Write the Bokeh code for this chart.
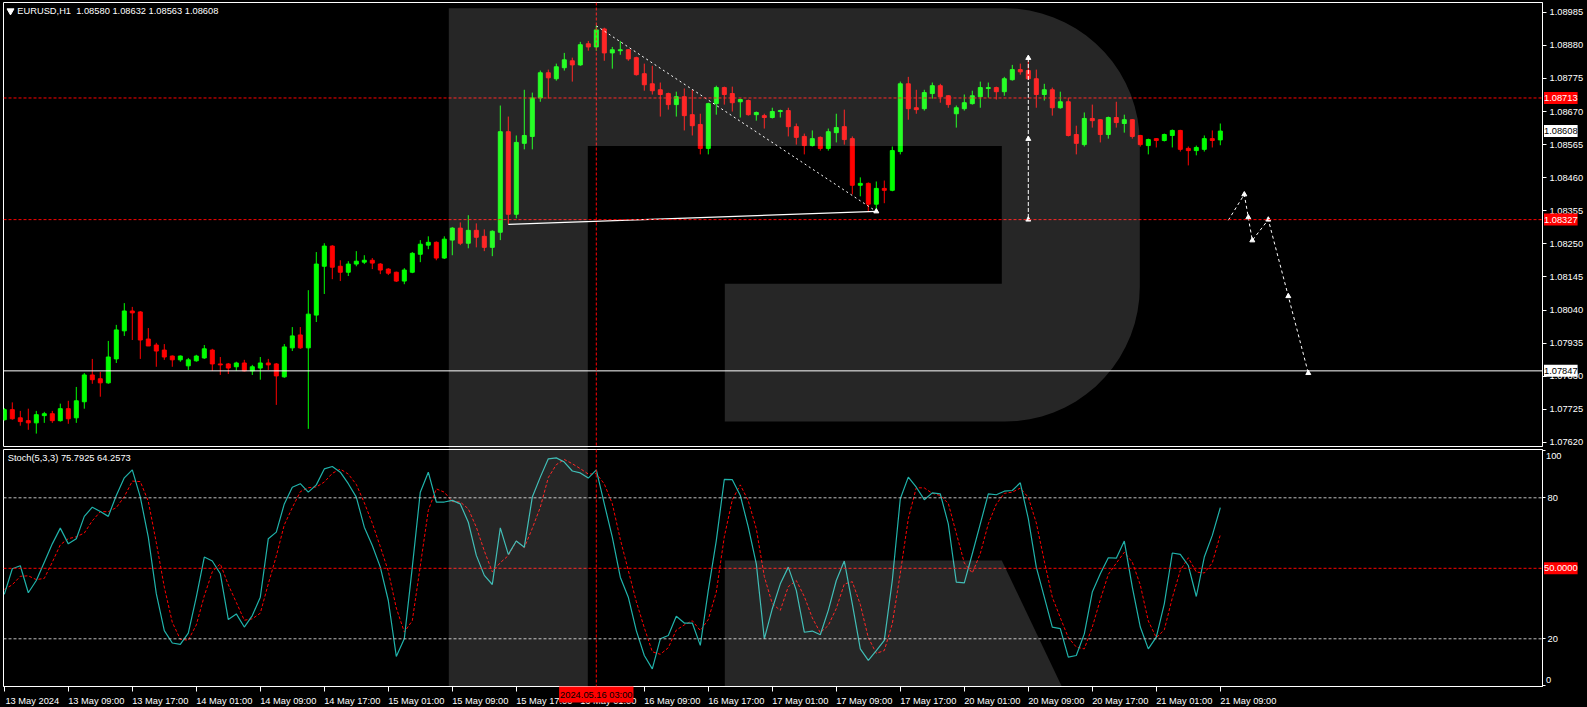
import numpy as np
from bokeh.plotting import figure
from bokeh.layouts import column
from bokeh.models import (Range1d, FixedTicker, PrintfTickFormatter, Span, Label, ColumnDataSource,
                          BoxAnnotation, PolyAnnotation)
from bokeh.embed import file_html
from bokeh.resources import INLINE

# ---------------- data (EURUSD H1, 13 May 01:00 .. 21 May 09:00) ----------------
open_ = [1.07692,1.07724,1.07698,1.07689,1.07682,1.07705,1.07711,1.07689,1.07727,1.07698,
         1.07749,1.07834,1.07822,1.07809,1.07885,1.07974,1.08037,1.08034,1.07948,1.07929,
         1.07913,1.07894,1.07882,1.07863,1.07879,1.07888,1.07913,1.07869,1.07869,1.07860,
         1.07872,1.07847,1.07856,1.07872,1.07869,1.07828,1.07920,1.07961,1.07920,1.08024,
         1.08179,1.08243,1.08179,1.08160,1.08186,1.08192,1.08198,1.08186,1.08170,1.08160,
         1.08132,1.08160,1.08217,1.08246,1.08255,1.08205,1.08262,1.08300,1.08252,1.08293,
         1.08274,1.08239,1.08287,1.08606,1.08344,1.08569,1.08591,1.08713,1.08793,1.08774,
         1.08809,1.08831,1.08818,1.08885,1.08875,1.08932,1.08856,1.08863,1.08866,1.08841,
         1.08790,1.08758,1.08739,1.08727,1.08692,1.08717,1.08660,1.08629,1.08553,1.08695,
         1.08746,1.08727,1.08701,1.08705,1.08660,1.08657,1.08651,1.08670,1.08673,1.08622,
         1.08591,1.08562,1.08588,1.08553,1.08603,1.08622,1.08584,1.08436,1.08442,1.08376,
         1.08426,1.08420,1.08543,1.08758,1.08682,1.08679,1.08727,1.08752,1.08720,1.08663,
         1.08679,1.08695,1.08717,1.08743,1.08746,1.08733,1.08771,1.08803,1.08800,1.08774,
         1.08724,1.08739,1.08682,1.08701,1.08597,1.08565,1.08648,1.08644,1.08597,1.08651,
         1.08632,1.08644,1.08594,1.08562,1.08584,1.08578,1.08594,1.08610,1.08553,1.08546,
         1.08550,1.08584,1.08580]
high = [1.07729,1.07747,1.07720,1.07727,1.07720,1.07717,1.07720,1.07743,1.07752,1.07796,
        1.07840,1.07885,1.07844,1.07942,1.07993,1.08062,1.08050,1.08037,1.07983,1.07936,
        1.07932,1.07896,1.07896,1.07888,1.07898,1.07929,1.07917,1.07891,1.07872,1.07876,
        1.07882,1.07866,1.07891,1.07885,1.07872,1.07932,1.07986,1.07986,1.08103,1.08224,
        1.08252,1.08246,1.08198,1.08195,1.08227,1.08214,1.08205,1.08189,1.08173,1.08162,
        1.08173,1.08224,1.08262,1.08274,1.08258,1.08274,1.08303,1.08318,1.08341,1.08315,
        1.08296,1.08293,1.08689,1.08654,1.08594,1.08739,1.08730,1.08800,1.08803,1.08822,
        1.08856,1.08841,1.08891,1.08894,1.08942,1.08936,1.08875,1.08894,1.08868,1.08844,
        1.08822,1.08815,1.08762,1.08730,1.08733,1.08743,1.08739,1.08663,1.08698,1.08752,
        1.08749,1.08749,1.08711,1.08708,1.08670,1.08663,1.08682,1.08676,1.08682,1.08632,
        1.08600,1.08610,1.08591,1.08616,1.08663,1.08676,1.08591,1.08461,1.08445,1.08448,
        1.08451,1.08559,1.08765,1.08780,1.08739,1.08739,1.08762,1.08758,1.08722,1.08689,
        1.08724,1.08736,1.08765,1.08762,1.08749,1.08780,1.08818,1.08822,1.08831,1.08803,
        1.08758,1.08746,1.08733,1.08714,1.08625,1.08667,1.08692,1.08646,1.08654,1.08701,
        1.08660,1.08646,1.08596,1.08584,1.08586,1.08600,1.08613,1.08612,1.08559,1.08562,
        1.08594,1.08610,1.08632]
low = [1.07689,1.07692,1.07673,1.07660,1.07648,1.07682,1.07682,1.07686,1.07679,1.07682,
       1.07727,1.07806,1.07765,1.07806,1.07872,1.07958,1.07945,1.07885,1.07926,1.07860,
       1.07882,1.07860,1.07876,1.07850,1.07876,1.07885,1.07847,1.07834,1.07837,1.07847,
       1.07845,1.07834,1.07819,1.07850,1.07739,1.07825,1.07910,1.07917,1.07663,1.08002,
       1.08091,1.08138,1.08132,1.08148,1.08179,1.08186,1.08170,1.08154,1.08151,1.08129,
       1.08122,1.08157,1.08192,1.08233,1.08198,1.08202,1.08214,1.08246,1.08236,1.08239,
       1.08227,1.08211,1.08262,1.08312,1.08331,1.08550,1.08550,1.08701,1.08711,1.08768,
       1.08800,1.08765,1.08815,1.08863,1.08863,1.08831,1.08806,1.08850,1.08831,1.08784,
       1.08736,1.08724,1.08654,1.08676,1.08654,1.08610,1.08594,1.08534,1.08534,1.08660,
       1.08692,1.08670,1.08651,1.08657,1.08641,1.08616,1.08648,1.08651,1.08591,1.08565,
       1.08534,1.08559,1.08546,1.08546,1.08572,1.08565,1.08407,1.08401,1.08353,1.08350,
       1.08379,1.08417,1.08534,1.08644,1.08663,1.08673,1.08711,1.08698,1.08682,1.08619,
       1.08673,1.08692,1.08682,1.08714,1.08708,1.08720,1.08768,1.08787,1.08771,1.08682,
       1.08705,1.08657,1.08679,1.08591,1.08534,1.08559,1.08619,1.08572,1.08584,1.08619,
       1.08603,1.08584,1.08559,1.08534,1.08556,1.08575,1.08556,1.08543,1.08499,1.08531,
       1.08543,1.08556,1.08563]
close = [1.07724,1.07695,1.07686,1.07682,1.07708,1.07711,1.07689,1.07727,1.07695,1.07752,
         1.07834,1.07819,1.07809,1.07891,1.07977,1.08037,1.08031,1.07945,1.07926,1.07910,
         1.07891,1.07882,1.07894,1.07882,1.07894,1.07917,1.07869,1.07866,1.07856,1.07872,
         1.07847,1.07860,1.07872,1.07866,1.07831,1.07923,1.07958,1.07920,1.08027,1.08186,
         1.08243,1.08176,1.08160,1.08186,1.08195,1.08198,1.08189,1.08167,1.08157,1.08132,
         1.08167,1.08220,1.08249,1.08255,1.08205,1.08265,1.08300,1.08252,1.08293,1.08271,
         1.08239,1.08290,1.08606,1.08344,1.08572,1.08594,1.08713,1.08793,1.08777,1.08812,
         1.08834,1.08818,1.08882,1.08875,1.08929,1.08856,1.08866,1.08866,1.08837,1.08787,
         1.08755,1.08736,1.08724,1.08692,1.08717,1.08657,1.08625,1.08553,1.08695,1.08746,
         1.08724,1.08698,1.08708,1.08660,1.08667,1.08651,1.08670,1.08673,1.08622,1.08588,
         1.08562,1.08584,1.08553,1.08606,1.08619,1.08581,1.08436,1.08442,1.08376,1.08426,
         1.08420,1.08546,1.08758,1.08679,1.08676,1.08730,1.08752,1.08717,1.08692,1.08682,
         1.08698,1.08720,1.08746,1.08746,1.08733,1.08774,1.08803,1.08796,1.08774,1.08724,
         1.08739,1.08682,1.08701,1.08594,1.08569,1.08648,1.08641,1.08597,1.08651,1.08635,
         1.08644,1.08591,1.08565,1.08581,1.08578,1.08597,1.08610,1.08550,1.08546,1.08556,
         1.08584,1.08578,1.08608]

stoch_k = [38.9,49.8,51.1,39.6,44.8,52.6,60.4,67.1,60.4,62.6,72.1,76.0,74.2,72.1,81.0,88.5,91.9,80.3,63.3,39.2,
           23.5,18.2,17.6,22.4,37.7,54.8,53.1,47.7,28.2,30.6,25.0,29.9,37.7,62.6,65.4,77.4,84.5,86.0,82.4,85.5,
           92.3,93.3,90.9,86.0,80.3,67.5,59.7,50.5,36.3,12.5,20.0,50.5,82.4,90.9,78.2,78.2,78.9,77.4,69.6,55.5,
           47.0,43.1,67.2,55.9,61.6,59.0,80.3,88.8,96.6,97.0,95.2,91.4,90.6,88.4,91.9,77.4,63.3,46.2,37.7,23.5,
           12.9,7.2,20.0,21.4,29.6,26.7,26.7,17.2,40.6,61.8,87.8,87.7,81.0,67.5,51.9,20.0,32.8,43.4,50.5,40.6,
           22.8,23.3,21.7,32.1,44.8,53.1,34.9,15.7,10.8,15.0,19.3,44.8,79.6,88.8,84.5,79.2,82.1,81.7,68.9,44.1,
           43.8,56.2,68.9,81.7,81.3,82.8,83.1,86.4,71.1,50.5,37.7,25.0,24.3,12.2,12.9,22.1,39.9,47.7,54.5,54.3,
           61.6,42.0,25.0,15.7,20.7,34.9,56.5,55.9,51.2,38.0,54.8,64.0,75.79]
stoch_d = [41.0,43.0,46.6,46.8,45.2,45.7,52.6,60.0,62.6,63.4,65.0,70.2,74.1,74.1,75.8,80.5,87.1,86.9,78.5,60.9,
           42.0,27.0,19.8,19.4,25.9,38.3,48.5,51.9,43.0,35.5,27.9,28.5,30.9,43.4,55.2,68.5,75.8,82.6,84.3,84.6,
           86.7,90.4,92.2,90.1,85.7,77.9,69.2,59.2,48.8,33.1,22.9,27.7,51.0,74.6,83.8,82.4,78.4,78.2,75.3,67.5,
           57.4,48.5,52.4,55.4,61.6,58.8,67.0,76.0,88.6,94.1,96.3,94.5,92.4,90.1,90.3,85.9,77.5,62.3,49.1,35.8,
           24.7,14.5,13.4,16.2,23.7,25.9,27.7,23.5,28.2,39.9,63.4,79.1,85.5,78.7,66.8,46.5,34.9,32.1,42.2,44.8,
           38.0,28.9,22.6,25.7,32.9,43.3,44.3,34.6,20.5,13.8,15.0,26.4,47.9,71.1,84.3,84.2,81.9,81.0,77.6,64.9,
           52.3,48.0,56.3,68.9,77.3,81.9,82.4,84.1,80.2,69.3,53.1,37.7,29.0,20.5,16.5,15.7,25.0,36.6,47.4,52.2,
           56.8,52.6,42.9,27.6,20.5,23.8,37.4,49.1,54.5,48.4,48.0,52.3,64.26]

# time-axis labels (every 8 bars)
tick_bars = [0, 8, 16, 24, 32, 40, 48, 56, 64, 72, 80, 88, 96, 104, 112, 120, 128, 136, 144, 152]
tick_labels = ["13 May 2024", "13 May 09:00", "13 May 17:00", "14 May 01:00", "14 May 09:00",
               "14 May 17:00", "15 May 01:00", "15 May 09:00", "15 May 17:00", "16 May 01:00",
               "16 May 09:00", "16 May 17:00", "17 May 01:00", "17 May 09:00", "17 May 17:00",
               "20 May 01:00", "20 May 09:00", "20 May 17:00", "21 May 01:00", "21 May 09:00"]
price_ticks = [1.07620, 1.07725, 1.07830, 1.07935, 1.08040, 1.08145, 1.08250, 1.08355,
               1.08460, 1.08565, 1.08670, 1.08775, 1.08880, 1.08985]

level_red = [1.08713, 1.08327]
level_white = 1.07847
last_price = 1.08608
cross_bar = 74
cross_text = "2024.05.16 03:00"

trend_x = [74, 109]
trend_y = [1.08942, 1.08353]
support_x = [63, 109]
support_y = [1.08312, 1.08353]
measure_x = [128, 128, 128]
measure_y = [1.08840, 1.08583, 1.08327]
fc_x = [153.0, 155.0, 155.5, 156.0, 158.0, 160.5, 163.0]
fc_y = [1.08325, 1.08407, 1.08334, 1.08261, 1.08327, 1.08084, 1.07840]

# ---------------- layout helpers ----------------
FONT = "Liberation Sans"
FS = "9.3px"
FRAME_W = 1539
PX_PRICE = 3.168e-5
LABEL_SHIFT = 3.5     # time labels start at their tick, as in the terminal

def px_x(X):          # reference pixel column -> bar units
    return (X - 3.5) / 8.0

def px_p(Y):          # reference pixel row -> price (upper pane)
    return 1.08985 - (Y - 12.0) * PX_PRICE

def px_s(Y):          # reference pixel row -> stochastic value (lower pane)
    return (685.3 - Y) / 2.35

xr = Range1d(px_x(2.7), px_x(2.7) + FRAME_W / 8.0)
X_EDGE = xr.end

bars = list(range(len(open_)))
up = [c >= o for o, c in zip(open_, close)]
colors = ["#00FF00" if u else "#FF0000" for u in up]
src = ColumnDataSource(dict(x=bars, o=open_, h=high, l=low, c=close,
                            top=[max(o, c) for o, c in zip(open_, close)],
                            bot=[min(o, c) for o, c in zip(open_, close)],
                            col=colors))

def style(fig):
    fig.background_fill_color = "black"
    fig.border_fill_color = "black"
    fig.outline_line_color = "white"
    fig.outline_line_width = 1
    fig.grid.visible = False

# ---------------- price pane ----------------
p = figure(frame_width=FRAME_W, frame_height=444, x_range=xr, y_range=Range1d(1.07607, 1.09016),
           x_axis_location=None, y_axis_location="right", toolbar_location=None,
           output_backend="svg", min_border=0, min_border_left=3, min_border_top=2,
           min_border_bottom=1, min_border_right=45)
style(p)
ya = p.yaxis[0]
ya.ticker = FixedTicker(ticks=price_ticks)
ya.formatter = PrintfTickFormatter(format="%.5f")
ya.axis_line_color = "white"
ya.major_tick_line_color = "white"
ya.major_tick_out = 4
ya.major_tick_in = 0
ya.minor_tick_line_color = None
ya.major_label_standoff = 3
ya.major_label_text_color = "white"
ya.major_label_text_font = FONT
ya.major_label_text_font_size = FS

for lv in level_red:
    p.add_layout(Span(location=lv, dimension="width", line_color="#FF0000", line_dash="3 2", line_width=1))
p.add_layout(Span(location=level_white, dimension="width", line_color="white", line_width=1))
p.add_layout(Span(location=cross_bar, dimension="height", line_color="#FF0000", line_dash="3 2", line_width=1))

p.segment(x0="x", y0="l", x1="x", y1="h", color="col", line_width=1, source=src)
p.vbar(x="x", width=0.5, top="top", bottom="bot", fill_color="col", line_color="col",
       line_width=1, source=src)

p.line(trend_x, trend_y, line_color="white", line_dash="2 3", line_width=1)
p.line(support_x, support_y, line_color="white", line_width=1.2)
p.scatter([trend_x[1]], [trend_y[1]], marker="triangle", size=5, color="white")
p.line(measure_x, measure_y, line_color="white", line_dash="4 2", line_width=1)
p.scatter(measure_x, measure_y, marker="triangle", size=5, color="white")
p.line(fc_x, fc_y, line_color="white", line_dash="3 3", line_width=1)
p.scatter(fc_x[1:], fc_y[1:], marker="triangle", size=5, color="white")

# watermark (semi-transparent overlay, as in the terminal)
WM_FILL = dict(fill_color="white", fill_alpha=0.149, line_color=None)
t = np.linspace(0, np.pi / 2, 18)
wm_X = ([448, 448, 1004] + list(1004 + 135 * np.sin(t)) + list(1004 + 135 * np.cos(t))
        + [724, 724, 1001, 1001, 587, 587])
wm_Y = ([470, 8, 8] + list(143 - 135 * np.cos(t)) + list(287 + 135 * np.sin(t))
        + [422, 284, 284, 146, 146, 470])
p.patch([px_x(v) for v in wm_X], [px_p(v) for v in wm_Y], level="overlay", **WM_FILL)

# header
p.scatter([px_x(9.7)], [px_p(10.6)], marker="inverted_triangle", size=7, color="white")
p.add_layout(Label(x=px_x(16.5), y=px_p(10.8), text="EURUSD,H1\u00a0 1.08580 1.08632 1.08563 1.08608",
                   text_color="white", text_font=FONT, text_font_size=FS, text_baseline="middle"))

def tag(fig, y, txt, bg, fg):
    fig.add_layout(Label(x=X_EDGE + 1.5 / 8, y=y, text=txt, text_color=fg, text_font=FONT,
                         text_font_size=FS, text_baseline="middle", text_align="left",
                         background_fill_color=bg, padding=(0, 3)), "right")

tag(p, level_red[0], "%.5f" % level_red[0], "#FF0000", "white")
tag(p, level_red[1], "%.5f" % level_red[1], "#FF0000", "white")
tag(p, last_price, "%.5f" % last_price, "white", "black")
tag(p, level_white, "%.5f" % level_white, "white", "black")

# ---------------- stochastic pane ----------------
s = figure(frame_width=FRAME_W, frame_height=237, x_range=xr, y_range=Range1d(px_s(686.0), px_s(449.0)),
           y_axis_location="right", toolbar_location=None, output_backend="svg",
           min_border=0, min_border_left=3, min_border_top=2, min_border_bottom=21,
           min_border_right=45)
style(s)
sy = s.yaxis[0]
sy.ticker = FixedTicker(ticks=[0, 20, 80, 100])
sy.major_label_overrides = {0: "", 100: ""}
sy.axis_line_color = "white"
sy.major_tick_line_color = "white"
sy.major_tick_out = 3
sy.major_tick_in = 0
sy.minor_tick_line_color = None
sy.major_label_standoff = 2
sy.major_label_text_color = "white"
sy.major_label_text_font = FONT
sy.major_label_text_font_size = FS

sx = s.xaxis[0]
sx.ticker = FixedTicker(ticks=[b + LABEL_SHIFT for b in tick_bars], minor_ticks=tick_bars)
sx.major_label_overrides = {b + LABEL_SHIFT: lab for b, lab in zip(tick_bars, tick_labels)}
sx.axis_line_color = "white"
sx.major_tick_line_color = None
sx.major_tick_out = 0
sx.major_tick_in = 0
sx.minor_tick_line_color = "white"
sx.minor_tick_out = 5
sx.minor_tick_in = 0
sx.major_label_standoff = 4
sx.major_label_text_color = "white"
sx.major_label_text_font = FONT
sx.major_label_text_font_size = FS

for lv in (80, 20):
    s.add_layout(Span(location=lv, dimension="width", line_color="#C0C0C0", line_dash="3 2", line_width=1))
s.add_layout(Span(location=50, dimension="width", line_color="#FF0000", line_dash="3 2", line_width=1))
s.add_layout(Span(location=cross_bar, dimension="height", line_color="#FF0000", line_dash="3 2", line_width=1))

s.line(bars, stoch_d, line_color="#FF0000", line_dash="3 2", line_width=1)
s.line(bars, stoch_k, line_color="#20B2AA", line_width=1.2)

s.patches([[px_x(v) for v in (448, 587, 587, 448)],
           [px_x(v) for v in (724, 1001, 1061, 724)]],
          [[px_s(v) for v in (440, 440, 686, 686)],
           [px_s(v) for v in (560, 560, 686, 686)]],
          level="overlay", **WM_FILL)
# the watermark continues behind the time scale
s.add_layout(BoxAnnotation(left=px_x(448), right=px_x(587), top=px_s(686), bottom=px_s(698),
                           level="overlay", **WM_FILL), "below")
s.add_layout(PolyAnnotation(xs=[px_x(v) for v in (724, 1061, 1067, 724)],
                            ys=[px_s(v) for v in (686, 686, 698, 698)],
                            level="overlay", **WM_FILL), "below")

s.add_layout(Label(x=px_x(6.9), y=px_s(457.3), text="Stoch(5,3,3) 75.7925 64.2573", text_color="white",
                   text_font=FONT, text_font_size=FS, text_baseline="middle"))
for yv, txt in ((455.5, "100"), (679.0, "0")):
    s.add_layout(Label(x=X_EDGE + 3.5 / 8, y=px_s(yv), text=txt, text_color="white", text_font=FONT,
                       text_font_size=FS, text_baseline="middle", text_align="left"), "right")
tag(s, 50, "50.0000", "#FF0000", "white")
s.add_layout(Label(x=cross_bar, y=px_s(694.0), text=cross_text, text_color="black", text_font=FONT,
                   text_font_size=FS, text_baseline="middle", text_align="center",
                   background_fill_color="#FF0000", padding=(1, 3)), "below")

layout = column(p, s, spacing=0)
layout.styles = {"background-color": "black"}
open("out.html", "w").write(file_html(layout, INLINE, "EURUSD H1"))
